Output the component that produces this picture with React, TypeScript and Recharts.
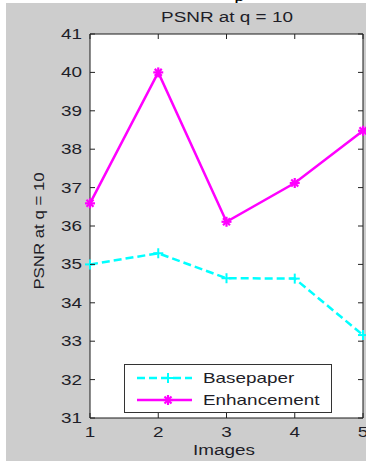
import React from 'react';
import { LineChart, Line, XAxis, YAxis, CartesianGrid, ReferenceArea } from 'recharts';

const images = [1, 2, 3, 4, 5];
const basepaper = [35.0, 35.29, 34.64, 34.63, 33.16];
const enhancement = [36.59, 40.0, 36.11, 37.12, 38.48];
const yTicks = [31, 32, 33, 34, 35, 36, 37, 38, 39, 40, 41];
const xTicks = [1, 2, 3, 4, 5];
const seriesNames = ['Basepaper', 'Enhancement'];
const titleText = 'PSNR at q = 10';
const yLabelText = 'PSNR at q = 10';
const xLabelText = 'Images';

const data = images.map((im, i) => ({ image: im, base: basepaper[i], enh: enhancement[i] }));

const W = 366;
const H = 461;
const PL = 90;
const PR = 363;
const PT = 34;
const PB = 418;
const SX = 1.35;
const FONT = '"Liberation Sans", Arial, sans-serif';
const TXT = '#1e1e28';
const CYAN = '#00ffff';
const MAG = '#ff00ff';

const PlusMarker = (props: any) => {
  const { cx, cy } = props;
  if (cx == null || cy == null) return null;
  return (
    <g>
      <line x1={cx - 5} x2={cx + 5} y1={cy} y2={cy} stroke={CYAN} strokeWidth={2} />
      <line x1={cx} x2={cx} y1={cy - 5} y2={cy + 5} stroke={CYAN} strokeWidth={2} />
    </g>
  );
};

const StarMarker = (props: any) => {
  const { cx, cy } = props;
  if (cx == null || cy == null) return null;
  return (
    <g stroke={MAG} strokeWidth={2.2}>
      <line x1={cx - 5} x2={cx + 5} y1={cy} y2={cy} />
      <line x1={cx} x2={cx} y1={cy - 5} y2={cy + 5} />
      <line x1={cx - 3.5} x2={cx + 3.5} y1={cy - 3.5} y2={cy + 3.5} />
      <line x1={cx - 3.5} x2={cx + 3.5} y1={cy + 3.5} y2={cy - 3.5} />
    </g>
  );
};

const YTick = (props: any) => {
  const { y, payload } = props;
  return (
    <g>
      <text
        transform={`translate(${PL - 8},${y}) scale(${SX},1)`}
        textAnchor="end"
        dy="0.36em"
        fontSize={14}
        fontFamily={FONT}
        fill={TXT}
      >
        {payload.value}
      </text>
      <line x1={PL} x2={PL + 5} y1={y} y2={y} stroke="#222" strokeWidth={1} />
      <line x1={PR - 5} x2={PR} y1={y} y2={y} stroke="#222" strokeWidth={1} />
    </g>
  );
};

const XTick = (props: any) => {
  const { x, payload } = props;
  return (
    <g>
      <text
        transform={`translate(${x},${PB + 19}) scale(${SX},1)`}
        textAnchor="middle"
        fontSize={14}
        fontFamily={FONT}
        fill={TXT}
      >
        {payload.value}
      </text>
      <line x1={x} x2={x} y1={PB} y2={PB - 5} stroke="#222" strokeWidth={1} />
      <line x1={x} x2={x} y1={PT} y2={PT + 5} stroke="#222" strokeWidth={1} />
    </g>
  );
};

const LegendBox = () => (
  <svg width={208} height={49} style={{ display: 'block' }}>
    <rect x={0.5} y={0.5} width={207} height={48} fill="#fff" stroke="#333" strokeWidth={1} />
    <line x1={13} x2={68} y1={14} y2={14} stroke={CYAN} strokeWidth={2.5} strokeDasharray="8 4" />
    <PlusMarker cx={44} cy={14} />
    <text transform={`translate(79,14) scale(${SX},1)`} dy="0.36em" fontSize={14} fontFamily={FONT} fill={TXT}>
      {seriesNames[0]}
    </text>
    <line x1={13} x2={68} y1={36} y2={36} stroke={MAG} strokeWidth={2.5} />
    <StarMarker cx={44} cy={36} />
    <text transform={`translate(79,36) scale(${SX},1)`} dy="0.36em" fontSize={14} fontFamily={FONT} fill={TXT}>
      {seriesNames[1]}
    </text>
  </svg>
);

export default function App() {
  return (
    <div style={{ position: 'absolute', left: 0, top: 0, width: W, height: H, background: '#fff', overflow: 'hidden' }}>
      <div style={{ position: 'absolute', left: 6, top: 3, width: W - 6, height: H - 3, background: '#cdcdcd' }} />
      <div style={{ position: 'absolute', left: 234, top: -17, fontFamily: 'serif', fontSize: 22, color: '#000', lineHeight: '22px', height: 20, overflow: 'hidden' }}>
        p
      </div>
      <div style={{ position: 'absolute', left: 0, top: 0 }}>
        <LineChart
          width={W}
          height={H}
          data={data}
          margin={{ top: PT, right: W - PR, bottom: H - PB - 30, left: PL - 50 }}
        >
          <CartesianGrid fill="#fff" horizontal={false} vertical={false} />
          <XAxis
            dataKey="image"
            type="number"
            domain={[1, 5]}
            ticks={xTicks}
            tick={<XTick />}
            tickLine={false}
            axisLine={false}
            height={30}
            interval={0}
          />
          <YAxis
            type="number"
            domain={[31, 41]}
            ticks={yTicks}
            tick={<YTick />}
            tickLine={false}
            axisLine={false}
            width={50}
            interval={0}
          />
          <ReferenceArea x1={1} x2={5} y1={31} y2={41} fill="none" stroke="#1a1a1a" strokeWidth={1} />
          <Line
            dataKey="base"
            name={seriesNames[0]}
            stroke={CYAN}
            strokeWidth={2.5}
            strokeDasharray="8 4"
            dot={<PlusMarker />}
            isAnimationActive={false}
          />
          <Line
            dataKey="enh"
            name={seriesNames[1]}
            stroke={MAG}
            strokeWidth={2.5}
            dot={<StarMarker />}
            isAnimationActive={false}
          />
        </LineChart>
      </div>
      <div style={{ position: 'absolute', left: 124, top: 364 }}>
        <LegendBox />
      </div>
      <div
        style={{
          position: 'absolute',
          left: (PL + PR) / 2,
          top: 9,
          transform: `translateX(-50%) scale(${SX},1)`,
          fontFamily: FONT,
          fontSize: 14,
          color: TXT,
          whiteSpace: 'nowrap',
          lineHeight: '16px',
        }}
      >
        {titleText}
      </div>
      <div
        style={{
          position: 'absolute',
          left: 39,
          top: 231,
          transform: `translate(-50%,-50%) rotate(-90deg) scale(1.2,1)`,
          fontFamily: FONT,
          fontSize: 14,
          color: TXT,
          whiteSpace: 'nowrap',
          lineHeight: '16px',
        }}
      >
        {yLabelText}
      </div>
      <div
        style={{
          position: 'absolute',
          left: 224,
          top: 442,
          transform: `translateX(-50%) scale(${SX},1)`,
          fontFamily: FONT,
          fontSize: 14,
          color: TXT,
          whiteSpace: 'nowrap',
          lineHeight: '16px',
        }}
      >
        {xLabelText}
      </div>
    </div>
  );
}
